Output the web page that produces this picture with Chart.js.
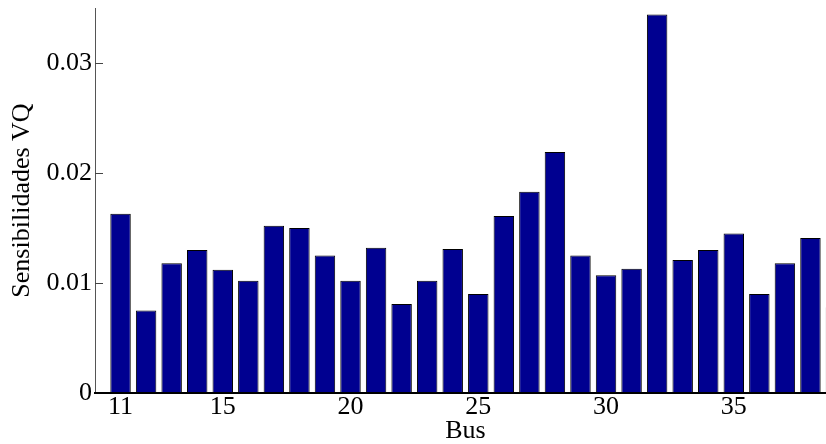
<!DOCTYPE html>
<html>
<head>
<meta charset="utf-8">
<script src="https://cdn.jsdelivr.net/npm/chart.js@4.4.0/dist/chart.umd.min.js"></script>
<style>
  html, body { margin: 0; padding: 0; background: #fff; overflow: hidden; }
  #wrap { position: relative; width: 860px; height: 444px; }
</style>
</head>
<body>
<div id="wrap"><canvas id="chart"></canvas></div>
<script>
// Bus numbers and their VQ sensitivities
const buses = [11, 12, 13, 14, 15, 16, 17, 18, 19, 20, 21, 22, 23, 24, 25,
               26, 27, 28, 29, 30, 31, 32, 33, 34, 35, 36, 37, 38, 39];
const sensitivities = [0.0163, 0.0075, 0.0118, 0.0130, 0.0112, 0.0102, 0.0152, 0.0150,
                       0.0125, 0.0102, 0.0132, 0.0081, 0.0102, 0.0131, 0.0090, 0.0161,
                       0.0183, 0.0219, 0.0125, 0.0107, 0.0113, 0.0344, 0.0121, 0.0130,
                       0.0145, 0.0090, 0.0118, 0.0141, 0.0078];

const xTickValues = [11, 15, 20, 25, 30, 35];
const yTickValues = [0, 0.01, 0.02, 0.03];
const yTickLabels = ['0', '0.01', '0.02', '0.03'];

const FONT = "'Liberation Serif', 'Times New Roman', serif";

// Short inward tick marks on the y axis
const innerTicks = {
  id: 'innerTicks',
  afterDraw(chart) {
    const y = chart.scales.y;
    const ctx = chart.ctx;
    const left = chart.chartArea.left;
    ctx.save();
    ctx.strokeStyle = '#444';
    ctx.lineWidth = 1;
    y.ticks.forEach(t => {
      if (t.value === 0) return;
      const py = Math.round(y.getPixelForValue(t.value)) + 0.5;
      ctx.beginPath();
      ctx.moveTo(left, py);
      ctx.lineTo(left + 8, py);
      ctx.stroke();
    });
    ctx.restore();
  }
};

new Chart(document.getElementById('chart'), {
  type: 'bar',
  data: {
    datasets: [{
      data: buses.map((b, i) => ({ x: b, y: sensitivities[i] })),
      backgroundColor: '#000090',
      borderColor: '#000000',
      borderWidth: 1,
      barPercentage: 0.8,
      categoryPercentage: 1.0
    }]
  },
  options: {
    responsive: true,
    maintainAspectRatio: false,
    animation: false,
    layout: { padding: { top: 8, right: 24, left: 0, bottom: 0 } },
    plugins: { legend: { display: false }, tooltip: { enabled: false } },
    scales: {
      x: {
        type: 'linear',
        offset: false,
        min: 10,
        max: 39,
        grid: { display: false, drawTicks: false },
        border: { display: true, color: '#000', width: 2, z: 1 },
        afterBuildTicks: s => { s.ticks = xTickValues.map(v => ({ value: v })); },
        afterFit: s => { s.height = 51; s.paddingLeft = 0; s.paddingRight = 0; },
        ticks: {
          color: '#000',
          padding: -1,
          maxRotation: 0,
          autoSkip: false,
          font: { family: FONT, size: 26 },
          callback: v => String(v)
        },
        title: {
          display: true,
          text: 'Bus',
          color: '#000',
          font: { family: FONT, size: 26, lineHeight: 1.0 },
          padding: { top: 0, bottom: 0 }
        }
      },
      y: {
        min: 0,
        max: 0.035,
        grid: { display: false, drawTicks: false },
        border: { display: true, color: '#555', width: 1 },
        afterBuildTicks: s => { s.ticks = yTickValues.map(v => ({ value: v })); },
        afterFit: s => { s.width = 95; s.paddingTop = 0; s.paddingBottom = 0; },
        ticks: {
          color: '#000',
          padding: 3,
          font: { family: FONT, size: 26 },
          callback: v => yTickLabels[yTickValues.indexOf(v)] ?? ''
        },
        title: {
          display: true,
          text: 'Sensibilidades VQ',
          color: '#000',
          font: { family: FONT, size: 26, lineHeight: 1.2 },
          padding: { top: 7, bottom: 0 }
        }
      }
    }
  },
  plugins: [innerTicks]
});
</script>
</body>
</html>
